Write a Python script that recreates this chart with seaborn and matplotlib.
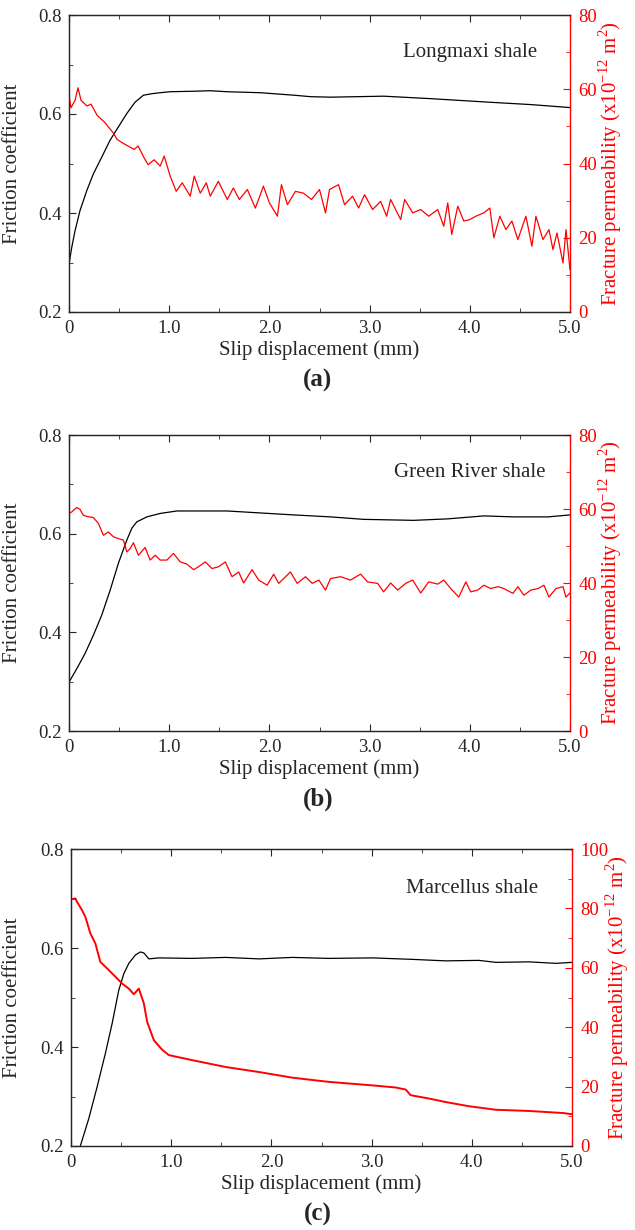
"""
Friction coefficient and fracture permeability vs slip displacement, three shales
"""

import numpy as np
import matplotlib
matplotlib.use('Agg')
import matplotlib.pyplot as plt
from matplotlib.ticker import MultipleLocator, FixedLocator
import seaborn as sns

sns.set_style('ticks')
plt.rcParams['font.family'] = ['Liberation Serif', 'DejaVu Serif']
plt.rcParams['mathtext.fontset'] = 'custom'
plt.rcParams['mathtext.rm'] = 'Liberation Serif'

# ---------------- (a) Longmaxi shale ----------------
a_fric_x = [0, 0.027, 0.06, 0.11, 0.177, 0.243, 0.327, 0.41, 0.493, 0.577, 0.66, 0.743,
            0.827, 0.91, 1.01, 1.243, 1.41, 1.577, 1.91, 2.243, 2.41, 2.61, 3.14, 3.61,
            4.18, 4.61, 5.0]
a_fric_y = [0.297, 0.33, 0.364, 0.405, 0.445, 0.479, 0.513, 0.547, 0.574, 0.601, 0.624, 0.638,
            0.641, 0.643, 0.645, 0.646, 0.647, 0.645, 0.643, 0.638, 0.635, 0.634, 0.636, 0.631,
            0.624, 0.619, 0.613]
a_perm_x = [0, 0.02, 0.06, 0.09, 0.12, 0.18, 0.22, 0.28, 0.36, 0.40, 0.44, 0.48, 0.53, 0.59,
            0.65, 0.69, 0.75, 0.79, 0.85, 0.91, 0.95, 1.01, 1.07, 1.13, 1.21, 1.25, 1.31, 1.37,
            1.41, 1.49, 1.58, 1.64, 1.70, 1.78, 1.86, 1.94, 2.00, 2.08, 2.12, 2.18, 2.26, 2.34,
            2.42, 2.50, 2.56, 2.60, 2.69, 2.75, 2.83, 2.89, 2.95, 3.03, 3.11, 3.17, 3.21, 3.31,
            3.35, 3.43, 3.51, 3.59, 3.68, 3.74, 3.78, 3.82, 3.88, 3.94, 4.00, 4.06, 4.14, 4.20,
            4.24, 4.30, 4.36, 4.42, 4.48, 4.56, 4.62, 4.66, 4.73, 4.79, 4.83, 4.87, 4.93, 4.96,
            5.0]
a_perm_y = [58.2, 55.0, 57.0, 60.4, 57.0, 55.5, 56.0, 53.0, 51.0, 49.6, 48.3, 46.5, 45.6, 44.7,
            43.8, 44.7, 41.5, 39.7, 41.0, 39.3, 42.0, 36.6, 32.5, 34.8, 31.2, 36.6, 32.0, 34.8,
            31.2, 35.2, 30.3, 33.4, 30.3, 33.0, 28.0, 33.9, 29.4, 25.8, 34.3, 28.9, 32.5, 32.0,
            30.3, 33.0, 26.7, 33.0, 34.3, 28.9, 31.2, 28.0, 31.6, 27.6, 29.8, 25.8, 30.3, 24.9,
            30.3, 26.7, 27.6, 25.8, 27.6, 23.1, 29.4, 20.9, 28.5, 24.5, 24.9, 25.8, 26.7, 28.0,
            20.0, 25.8, 22.2, 24.5, 19.5, 25.8, 17.7, 25.8, 19.5, 22.2, 16.8, 21.3, 13.2, 22.2,
            11.4]

# ---------------- (b) Green River shale ----------------
b_fric_x = [0, 0.077, 0.16, 0.243, 0.327, 0.41, 0.493, 0.577, 0.627, 0.677, 0.777, 0.91,
            1.077, 1.243, 1.577, 1.91, 2.243, 2.61, 2.94, 3.44, 3.78, 4.14, 4.44, 4.78, 5.0]
b_fric_y = [0.299, 0.326, 0.357, 0.394, 0.435, 0.485, 0.54, 0.587, 0.611, 0.624, 0.634, 0.641,
            0.646, 0.646, 0.646, 0.642, 0.638, 0.634, 0.629, 0.627, 0.630, 0.636, 0.634, 0.634,
            0.638]
b_perm_x = [0, 0.027, 0.077, 0.11, 0.143, 0.193, 0.243, 0.293, 0.343, 0.393, 0.443, 0.493,
            0.543, 0.577, 0.61, 0.643, 0.693, 0.76, 0.81, 0.86, 0.91, 0.977, 1.043, 1.11, 1.177,
            1.243, 1.293, 1.36, 1.427, 1.493, 1.56, 1.627, 1.693, 1.743, 1.827, 1.893, 1.977,
            2.043, 2.093, 2.21, 2.277, 2.36, 2.427, 2.493, 2.56, 2.61, 2.71, 2.81, 2.91, 2.98,
            3.08, 3.14, 3.21, 3.28, 3.36, 3.43, 3.51, 3.59, 3.68, 3.74, 3.81, 3.89, 3.96, 4.01,
            4.08, 4.14, 4.21, 4.28, 4.34, 4.43, 4.48, 4.54, 4.61, 4.68, 4.74, 4.79, 4.86, 4.93,
            4.96, 5.0]
b_perm_y = [58.8, 59.2, 60.4, 59.9, 58.3, 57.9, 57.7, 56.1, 52.9, 53.8, 52.5, 52.0, 51.6, 48.4,
            49.3, 50.9, 47.5, 49.6, 46.2, 47.5, 46.2, 46.2, 48.0, 45.7, 45.1, 43.6, 44.4, 45.7,
            43.9, 44.4, 45.7, 41.7, 43.0, 40.0, 43.6, 40.8, 39.4, 42.4, 39.9, 43.0, 39.9, 41.7,
            39.9, 40.8, 38.1, 41.2, 41.7, 40.8, 42.4, 40.3, 39.9, 37.6, 40.0, 38.1, 39.9, 40.8,
            37.3, 40.3, 39.7, 40.8, 38.5, 36.2, 40.3, 37.6, 38.1, 39.4, 38.5, 39.0, 38.5, 37.2,
            39.0, 36.7, 38.1, 38.5, 39.4, 36.2, 38.5, 39.0, 36.2, 37.3]

# ---------------- (c) Marcellus shale ----------------
c_fric_x = [0.093, 0.177, 0.26, 0.343, 0.41, 0.477, 0.527, 0.577, 0.643, 0.693, 0.727, 0.777,
            0.877, 1.21, 1.543, 1.877, 2.21, 2.57, 3.01, 3.41, 3.74, 4.07, 4.24, 4.57, 4.84, 5.0]
c_fric_y = [0.2, 0.255, 0.319, 0.387, 0.447, 0.515, 0.548, 0.569, 0.586, 0.592, 0.590, 0.578,
            0.580, 0.579, 0.581, 0.578, 0.581, 0.579, 0.580, 0.577, 0.574, 0.575, 0.571, 0.572,
            0.569, 0.571]
c_perm_x = [0, 0.043, 0.06, 0.11, 0.143, 0.193, 0.243, 0.293, 0.36, 0.443, 0.51, 0.577, 0.627,
            0.677, 0.727, 0.76, 0.827, 0.91, 0.977, 1.21, 1.543, 1.877, 2.21, 2.57, 3.01, 3.24,
            3.34, 3.39, 3.57, 3.74, 3.97, 4.24, 4.57, 4.91, 5.0]
c_perm_y = [83.0, 83.4, 82.2, 79.4, 77.2, 71.6, 68.2, 62.0, 59.8, 57.0, 54.7, 53.0, 51.1, 53.0,
            48.0, 41.8, 35.6, 32.4, 30.6, 28.9, 26.6, 24.9, 23.0, 21.6, 20.4, 19.7, 19.0, 17.1,
            16.0, 14.8, 13.4, 12.2, 11.8, 11.1, 10.7]

panels = [
    ('(a)', 'Longmaxi shale', a_fric_x, a_fric_y, a_perm_x, a_perm_y, 80, 0.875, 0.9),
    ('(b)', 'Green River shale', b_fric_x, b_fric_y, b_perm_x, b_perm_y, 80, 0.875, 0.9),
    ('(c)', 'Marcellus shale', c_fric_x, c_fric_y, c_perm_x, c_perm_y, 100, 0.868, 1.4),
]

# axes boxes in figure pixels: (left, top, bottom), right-label centre x
boxes = [(69, 15, 312, 610), (69, 435, 731, 610), (71, 849, 1146, 617)]
W, H = 635, 1230

fig = plt.figure(figsize=(W / 100, H / 100), dpi=100)

for (tag, name, fx, fy, px, py, pmax, ty, plw), (left, top, bot, rlab) in zip(panels, boxes):
    ax = fig.add_axes([left / W, 1 - bot / H, 501 / W, (bot - top) / H])
    ax2 = ax.twinx()

    sns.lineplot(x=fx, y=fy, ax=ax, color='black', linewidth=0.9, sort=False)
    sns.lineplot(x=px, y=py, ax=ax2, color='#ff0000', linewidth=plw, sort=False)

    ax.set_xlim(0, 5.0)
    ax.set_ylim(0.2, 0.8)
    ax2.set_ylim(0, pmax)

    ax.xaxis.set_major_locator(FixedLocator([0, 1, 2, 3, 4, 5]))
    ax.set_xticklabels(['0', '1.0', '2.0', '3.0', '4.0', '5.0'])
    ax.xaxis.set_minor_locator(MultipleLocator(0.5))
    ax.yaxis.set_minor_locator(MultipleLocator(0.1))
    ax.set_yticks([0.2, 0.4, 0.6, 0.8])
    ax.set_yticklabels(['0.2', '0.4', '0.6', '0.8'])
    ax2.yaxis.set_major_locator(MultipleLocator(20))
    ax2.yaxis.set_minor_locator(MultipleLocator(10))

    ax.tick_params(axis='both', which='both', direction='in', top=True, right=False,
                   labelsize=13.5)
    ax.tick_params(axis='x', pad=6)
    ax.tick_params(axis='y', pad=5)
    ax.tick_params(which='major', length=5)
    ax.tick_params(which='minor', length=3)
    ax2.tick_params(axis='y', which='both', direction='in', colors='#ff0000',
                    labelsize=13.5, pad=6)
    ax2.tick_params(which='major', length=5)
    ax2.tick_params(which='minor', length=3)

    for sp in ['left', 'top', 'bottom']:
        ax.spines[sp].set_color('#333333')
        ax.spines[sp].set_linewidth(1.0)
    ax2.spines['right'].set_color('#ff0000')
    ax2.spines['right'].set_linewidth(1.0)
    ax.spines['right'].set_visible(False)

    ax.set_xlabel('Slip displacement (mm)', fontsize=15, labelpad=2)
    ax.set_ylabel('Friction coefficient', fontsize=15)
    ax.yaxis.set_label_coords((22 - left) / 501, 0.5)
    ax2.set_ylabel(r'Fracture permeability (x10$^{\mathrm{-12}}$ m$^{\mathrm{2}}$)',
                   fontsize=15, color='#ff0000', va='center')
    ax2.yaxis.set_label_coords((rlab - left) / 501, 0.5)

    ax.text(0.80, ty, name, transform=ax.transAxes, fontsize=15,
            ha='center', va='center')
    fig.text(318 / W, 1 - (bot + 68) / H, tag, fontsize=18, fontweight='bold',
             ha='center', va='center')

plt.savefig('out.png', dpi=100)
plt.close()
